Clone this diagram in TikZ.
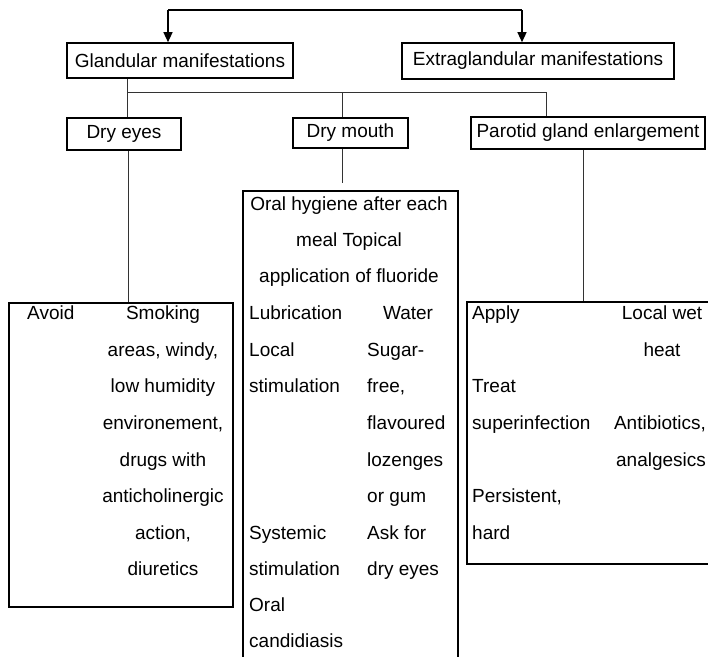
\documentclass[tikz,border=0pt]{standalone}
\usepackage{fontspec}
\setmainfont{Liberation Sans}
\usetikzlibrary{arrows.meta}

\begin{document}
\begin{tikzpicture}[x=1pt,y=-1pt,
  box/.style={draw, line width=1.6pt, inner sep=0pt, font=\fontsize{19}{22}\selectfont},
  txt/.style={inner sep=0pt, font=\fontsize{19}{22}\selectfont, text height=13pt, text depth=4pt},
  link/.style={line width=1pt, draw=black!80},
  feed/.style={line width=1.3pt, -{Triangle[length=10pt,width=9pt]}}]
\useasboundingbox (0,0) rectangle (708,656);
\clip (0,0) rectangle (708,656);

% headings
\node[box, minimum width=226pt, minimum height=35pt] (glan) at (180,60.5) {Glandular manifestations};
\node[box, minimum width=272pt, minimum height=36pt] (extra) at (538,61) {Extraglandular manifestations};

% glandular branches
\node[box, minimum width=114pt, minimum height=32pt] (eyes) at (124,134) {Dry eyes};
\node[box, minimum width=115pt, minimum height=30pt] (mouth) at (350.5,133) {Dry mouth};
\node[box, minimum width=234pt, minimum height=32pt] (parotid) at (588,133) {Parotid gland enlargement};

% management panels
\node[box, minimum width=224pt, minimum height=304pt] (eyespanel) at (121,455) {};
\node[box, minimum width=215pt, minimum height=472pt] (mouthpanel) at (350.5,427) {};
\node[box, minimum width=245pt, minimum height=262pt] (parpanel) at (589.5,433) {};

% feed from above
\coordinate (feedL) at (168,10);
\coordinate (feedR) at (522,10);
\draw[link, line width=1.3pt, draw=black] (feedL) -- (feedR);
\draw[feed] (feedL) -- (feedL |- glan.north);
\draw[feed] (feedR) -- (feedR |- extra.north);

% bus from glandular heading
\coordinate (bus) at (127,92);
\coordinate (busM) at (342,92);
\coordinate (busR) at (546,92);
\draw[link] (glan.south -| bus) -- (bus) -- (busR) -- (busR |- parotid.north);
\draw[link] (bus) -- (bus |- eyes.north);
\draw[link] (busM) -- (busM |- mouth.north);

% branches to panels
\draw[link] ([xshift=4pt]eyes.south) -- ([xshift=4pt]eyes.south |- eyespanel.north);
\coordinate (mouthend) at (342.5,183);
\draw[link] (mouth.south -| mouthend) -- (mouthend);
\draw[link] ([xshift=-5pt]parotid.south) -- ([xshift=-5pt]parotid.south |- parpanel.north);

% dry eyes panel
\node[txt, anchor=west] (e0) at (27,315) {Avoid};
\node[txt] (e1) at (163,315) {Smoking};
\node[txt] (e2) at (163,352) {areas, windy,};
\node[txt] (e3) at (163,388) {low humidity};
\node[txt] (e4) at (163,425) {environement,};
\node[txt] (e5) at (163,462) {drugs with};
\node[txt] (e6) at (163,498) {anticholinergic};
\node[txt] (e7) at (163,535) {action,};
\node[txt] (e8) at (163,571) {diuretics};

% dry mouth panel
\node[txt] (m1) at (349,206) {Oral hygiene after each};
\node[txt] (m2) at (349,242) {meal Topical};
\node[txt] (m3) at (349,278) {application of fluoride};
\node[txt, anchor=west] (m4) at (249,315) {Lubrication};
\node[txt] (m5) at (408,315) {Water};
\node[txt, anchor=west] (m6) at (249,352) {Local};
\node[txt, anchor=west] (m7) at (249,388) {stimulation};
\node[txt, anchor=west] (m8) at (367,352) {Sugar-};
\node[txt, anchor=west] (m9) at (367,388) {free,};
\node[txt, anchor=west] (m10) at (367,425) {flavoured};
\node[txt, anchor=west] (m11) at (367,462) {lozenges};
\node[txt, anchor=west] (m12) at (367,498) {or gum};
\node[txt, anchor=west] (m13) at (249,535) {Systemic};
\node[txt, anchor=west] (m14) at (249,571) {stimulation};
\node[txt, anchor=west] (m15) at (367,535) {Ask for};
\node[txt, anchor=west] (m16) at (367,571) {dry eyes};
\node[txt, anchor=west] (m17) at (249,607) {Oral};
\node[txt, anchor=west] (m18) at (249,643) {candidiasis};

% parotid panel
\node[txt, anchor=west] (p1) at (472,315) {Apply};
\node[txt] (p2) at (662,315) {Local wet};
\node[txt] (p3) at (662,352) {heat};
\node[txt, anchor=west] (p4) at (472,388) {Treat};
\node[txt, anchor=west] (p5) at (472,425) {superinfection};
\node[txt] (p6) at (660,425) {Antibiotics,};
\node[txt] (p7) at (661,462) {analgesics};
\node[txt, anchor=west] (p8) at (472,498) {Persistent,};
\node[txt, anchor=west] (p9) at (472,535) {hard};
\end{tikzpicture}
\end{document}
